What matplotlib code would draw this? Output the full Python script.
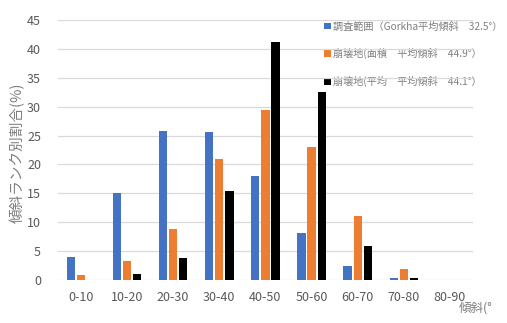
import matplotlib
matplotlib.use('Agg')
import matplotlib.pyplot as plt
import numpy as np

plt.rcParams['font.family'] = ['Noto Sans CJK JP', 'DejaVu Sans']

categories = ['0-10', '10-20', '20-30', '30-40', '40-50', '50-60', '60-70', '70-80', '80-90']
survey_area = [4.0, 15.1, 25.8, 25.7, 18.0, 8.2, 2.4, 0.3, 0.0]
landslide_area = [0.8, 3.3, 8.8, 20.9, 29.4, 23.1, 11.0, 1.95, 0.0]
landslide_mean = [0.0, 1.05, 3.9, 15.4, 41.2, 32.6, 5.9, 0.3, 0.0]
labels = ['調査範囲（Gorkha平均傾斜\u300032.5°）',
          '崩壊地(面積\u3000平均傾斜\u300044.9°）',
          '崩壊地(平均\u3000平均傾斜\u300044.1°）']
colors = ['#4472C4', '#ED7D31', '#000000']

fig = plt.figure(figsize=(5.07, 3.23), dpi=100)
ax = fig.add_axes([0.114, 0.133, 0.819, 0.805])

x = np.arange(len(categories))
w = 0.18
step = 0.22
bars = []
for i, (vals, c) in enumerate(zip([survey_area, landslide_area, landslide_mean], colors)):
    b = ax.bar(x + (i - 1) * step, vals, width=w, color=c, zorder=2)
    bars.append(b)

ax.set_ylim(0, 45)
ax.set_xlim(-0.5, 8.5)
ax.set_yticks(np.arange(0, 46, 5))
ax.set_xticks(x)
ax.set_xticklabels(categories)
ax.grid(axis='y', color='#d9d9d9', linewidth=0.9, zorder=0)
ax.set_axisbelow(True)
for s in ax.spines.values():
    s.set_visible(False)
ax.tick_params(length=0, colors='#595959', labelsize=9, pad=8)
ax.tick_params(axis='y', pad=12)

ax.set_ylabel('傾斜ランク別割合(%)', color='#7f7f7f', fontsize=10.5)
ax.yaxis.set_label_coords(-0.078, 0.49)
fig.text(0.905, 0.035, '傾斜(°', color='#7f7f7f', fontsize=9, ha='left')

# legend sits under the gridlines like in the original
leg = ax.legend(bars, labels, loc='upper left', bbox_to_anchor=(0.622, 0.962),
                bbox_transform=fig.transFigure,
                frameon=False, fontsize=7.3, handlelength=0.6, handleheight=0.6,
                handletextpad=0.2, labelspacing=1.65, labelcolor='#7f7f7f')
leg.set_zorder(-1)

plt.savefig('out.png', dpi=100)
plt.close(fig)
